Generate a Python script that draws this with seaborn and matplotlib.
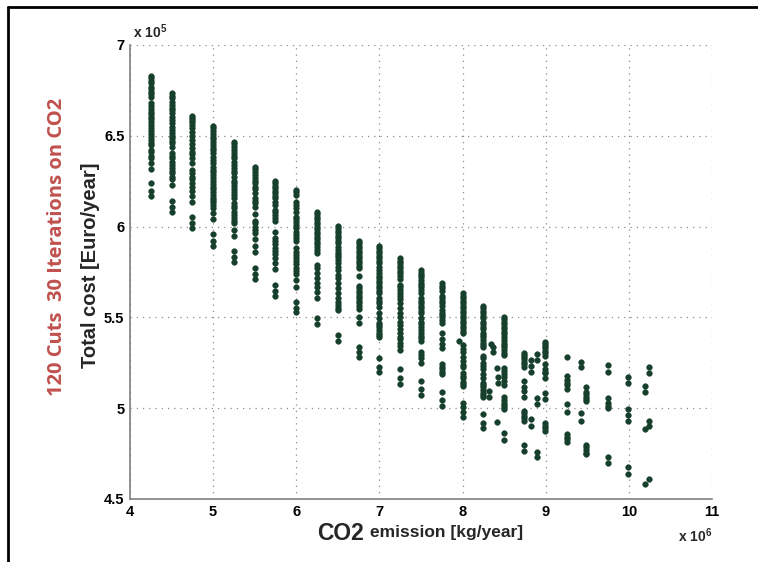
import matplotlib
matplotlib.use("Agg")
import matplotlib.pyplot as plt
from matplotlib import font_manager
from matplotlib.lines import Line2D
import seaborn as sns
import pandas as pd

# ---------------- data (x in 1e6 kg/year, y in 1e5 Euro/year) ----------------
x_ticks = [4, 5, 6, 7, 8, 9, 10, 11]
y_ticks = [4.5, 5, 5.5, 6, 6.5, 7]
y_tick_labels = ["4.5", "5", "5.5", "6", "6.5", "7"]

y_425 = [6.829, 6.817, 6.802, 6.789, 6.770, 6.758, 6.743, 6.729, 6.712, 6.679, 6.666, 6.646,
         6.633, 6.618, 6.605, 6.591, 6.578, 6.559, 6.541, 6.526, 6.510, 6.495, 6.477, 6.462,
         6.449, 6.422, 6.409, 6.390, 6.376, 6.349, 6.316, 6.238, 6.196, 6.170]
y_450 = [6.734, 6.721, 6.707, 6.688, 6.670, 6.655, 6.642, 6.624, 6.605, 6.587, 6.569, 6.551,
         6.532, 6.514, 6.501, 6.486, 6.472, 6.459, 6.441, 6.404, 6.391, 6.376, 6.358, 6.339,
         6.321, 6.306, 6.294, 6.275, 6.261, 6.229, 6.143, 6.110, 6.082]
y_475 = [6.611, 6.600, 6.587, 6.574, 6.559, 6.545, 6.523, 6.501, 6.477, 6.453, 6.431, 6.413,
         6.398, 6.376, 6.349, 6.312, 6.294, 6.275, 6.262, 6.238, 6.220, 6.196, 6.170, 6.137,
         6.055, 6.018, 5.991]
y_500 = [6.554, 6.541, 6.526, 6.510, 6.495, 6.482, 6.467, 6.449, 6.434, 6.421, 6.403, 6.385,
         6.367, 6.348, 6.330, 6.312, 6.299, 6.284, 6.266, 6.251, 6.233, 6.220, 6.207, 6.192,
         6.174, 6.159, 6.146, 6.134, 6.119, 6.101, 6.073, 6.042, 5.958, 5.921, 5.895]
y_525 = [6.467, 6.453, 6.440, 6.422, 6.403, 6.390, 6.376, 6.357, 6.339, 6.321, 6.306, 6.294,
         6.275, 6.251, 6.239, 6.226, 6.208, 6.193, 6.174, 6.156, 6.129, 6.116, 6.101, 6.083,
         6.064, 6.046, 6.031, 6.019, 5.982, 5.950, 5.866, 5.835, 5.803]
y_550 = [6.330, 6.317, 6.302, 6.284, 6.266, 6.251, 6.239, 6.220, 6.207, 6.184, 6.156, 6.141,
         6.129, 6.110, 6.068, 6.031, 6.019, 6.000, 5.981, 5.963, 5.932, 5.895, 5.858, 5.770,
         5.737, 5.709]
y_575 = [6.251, 6.239, 6.226, 6.211, 6.196, 6.184, 6.171, 6.156, 6.134, 6.119, 6.091, 6.079,
         6.064, 6.046, 6.031, 5.972, 5.939, 5.921, 5.903, 5.884, 5.866, 5.848, 5.829, 5.798,
         5.767, 5.678, 5.645, 5.618]
y_600 = [6.202, 6.189, 6.174, 6.134, 6.119, 6.101, 6.079, 6.055, 6.042, 6.027, 6.009, 5.991,
         5.972, 5.954, 5.939, 5.921, 5.884, 5.862, 5.844, 5.829, 5.811, 5.793, 5.774, 5.756,
         5.737, 5.705, 5.669, 5.583, 5.553, 5.528]
y_625 = [6.082, 6.069, 6.055, 6.041, 6.027, 6.014, 6.000, 5.985, 5.972, 5.959, 5.945, 5.930,
         5.917, 5.904, 5.889, 5.871, 5.852, 5.789, 5.770, 5.743, 5.715, 5.688, 5.666, 5.642,
         5.605, 5.495, 5.464]
y_650 = [6.003, 5.991, 5.977, 5.963, 5.948, 5.936, 5.923, 5.908, 5.890, 5.872, 5.857, 5.844,
         5.832, 5.817, 5.799, 5.777, 5.761, 5.734, 5.716, 5.688, 5.661, 5.633, 5.606, 5.587,
         5.569, 5.551, 5.538, 5.403, 5.372]
y_675 = [5.922, 5.908, 5.893, 5.880, 5.867, 5.853, 5.838, 5.825, 5.812, 5.798, 5.783, 5.770,
         5.728, 5.673, 5.661, 5.648, 5.633, 5.618, 5.605, 5.593, 5.578, 5.563, 5.545, 5.504,
         5.468, 5.339, 5.312, 5.280]
y_700 = [5.893, 5.880, 5.867, 5.853, 5.838, 5.825, 5.812, 5.798, 5.779, 5.761, 5.743, 5.728,
         5.715, 5.702, 5.688, 5.673, 5.661, 5.648, 5.633, 5.605, 5.593, 5.578, 5.559, 5.526,
         5.495, 5.471, 5.458, 5.445, 5.430, 5.416, 5.403, 5.390, 5.275, 5.229, 5.198]
y_725 = [5.825, 5.812, 5.798, 5.783, 5.770, 5.757, 5.743, 5.728, 5.710, 5.678, 5.666, 5.651,
         5.636, 5.618, 5.600, 5.578, 5.550, 5.526, 5.504, 5.477, 5.458, 5.435, 5.413, 5.394,
         5.380, 5.361, 5.343, 5.320, 5.214, 5.165, 5.133]
y_750 = [5.761, 5.746, 5.733, 5.720, 5.706, 5.691, 5.678, 5.665, 5.651, 5.636, 5.605, 5.592,
         5.578, 5.563, 5.550, 5.537, 5.522, 5.495, 5.476, 5.464, 5.445, 5.430, 5.412, 5.398,
         5.385, 5.372, 5.311, 5.293, 5.275, 5.251, 5.151, 5.104, 5.073]
y_775 = [5.688, 5.673, 5.661, 5.647, 5.618, 5.605, 5.592, 5.578, 5.563, 5.541, 5.526, 5.514,
         5.501, 5.486, 5.471, 5.416, 5.380, 5.354, 5.330, 5.243, 5.229, 5.215, 5.201, 5.188,
         5.091, 5.046, 5.012]
y_796 = [5.372]
y_800 = [5.633, 5.618, 5.605, 5.592, 5.578, 5.563, 5.550, 5.537, 5.522, 5.507, 5.495, 5.481,
         5.467, 5.452, 5.440, 5.427, 5.412, 5.348, 5.324, 5.311, 5.284, 5.262, 5.238, 5.225,
         5.192, 5.177, 5.165, 5.146, 5.133, 5.122, 5.027, 5.005, 4.981, 4.950]
y_825 = [5.563, 5.550, 5.537, 5.522, 5.507, 5.495, 5.476, 5.464, 5.449, 5.435, 5.416, 5.403,
         5.390, 5.376, 5.361, 5.348, 5.335, 5.287, 5.275, 5.247, 5.233, 5.214, 5.188, 5.165,
         5.141, 5.128, 5.115, 5.100, 5.085, 5.073, 5.060, 4.968, 4.920, 4.889]
y_832 = [5.096, 5.063]
y_834 = [5.352]
y_836 = [5.339, 5.311]
y_841 = [5.220, 4.926]
y_843 = [5.173, 5.140]
y_850 = [5.504, 5.490, 5.476, 5.464, 5.449, 5.435, 5.421, 5.408, 5.390, 5.376, 5.361, 5.348,
         5.335, 5.320, 5.305, 5.293, 5.220, 5.207, 5.188, 5.173, 5.152, 5.128, 5.060, 5.045,
         5.030, 5.017, 5.005, 4.994, 4.862, 4.825]
y_874 = [5.306, 5.293, 5.280, 5.269, 5.256, 5.243, 5.225, 5.151, 5.118, 5.096, 5.060, 4.986,
         4.972, 4.957, 4.944, 4.931, 4.797, 4.764]
y_882 = [5.265, 5.232, 5.201, 4.939, 4.902]
y_890 = [5.297, 5.264, 5.054, 5.023, 4.760, 4.730]
y_899 = [5.366, 5.353, 5.342, 5.330, 5.317, 5.302, 5.287, 5.242, 5.214, 5.201, 5.192, 5.168,
         5.085, 5.049, 4.917, 4.904, 4.891, 4.876]
y_925 = [5.280, 5.177, 5.155, 5.140, 5.126, 5.104, 5.021, 4.981, 4.858, 4.843, 4.829, 4.812]
y_943 = [5.256, 5.229, 4.972, 4.931]
y_949 = [5.118, 5.091, 5.078, 5.063, 5.049, 5.041, 4.797, 4.785, 4.770, 4.755, 4.746]
y_975 = [5.236, 5.201, 5.054, 5.027, 5.012, 4.999, 4.733, 4.700]
y_999 = [5.173, 5.140, 4.994, 4.963, 4.931, 4.675, 4.638]
y_1019 = [5.122, 5.091, 4.884, 4.583]
y_1024 = [5.229, 5.196, 4.931, 4.902, 4.610]

columns = {
    4.25: y_425, 4.50: y_450, 4.75: y_475, 5.00: y_500, 5.25: y_525, 5.50: y_550,
    5.75: y_575, 6.00: y_600, 6.25: y_625, 6.50: y_650, 6.75: y_675, 7.00: y_700,
    7.25: y_725, 7.50: y_750, 7.75: y_775, 7.96: y_796, 8.00: y_800, 8.25: y_825,
    8.32: y_832, 8.34: y_834, 8.36: y_836, 8.41: y_841, 8.43: y_843, 8.50: y_850,
    8.74: y_874, 8.82: y_882, 8.90: y_890, 8.99: y_899, 9.25: y_925, 9.43: y_943,
    9.49: y_949, 9.75: y_975, 9.99: y_999, 10.19: y_1019, 10.24: y_1024,
}

rows = [(xv, yv) for xv, ys in columns.items() for yv in ys]
df = pd.DataFrame(rows, columns=["co2", "cost"])

# ---------------- styling ----------------
sns.set_style("white")
avail = {f.name for f in font_manager.fontManager.ttflist}
narrow = "Liberation Sans Narrow" if "Liberation Sans Narrow" in avail else "Liberation Sans"
plt.rcParams["font.family"] = ["Liberation Sans", "DejaVu Sans"]
plt.rcParams["mathtext.default"] = "regular"

fig = plt.figure(figsize=(7.58, 5.62), dpi=100)
ax = fig.add_axes([130 / 758, 1 - 499 / 562, 582 / 758, 454 / 562])

sns.scatterplot(data=df, x="co2", y="cost", ax=ax, color="#17402c", s=17,
                edgecolor="#17402c", linewidth=0.3, zorder=3)

ax.set_xlim(4, 11)
ax.set_ylim(4.5, 7)
ax.set_xticks(x_ticks)
ax.set_yticks(y_ticks)
ax.set_xticklabels([str(v) for v in x_ticks], fontfamily=narrow, fontweight="bold", fontsize=10.5)
ax.set_yticklabels(y_tick_labels, fontfamily=narrow, fontweight="bold", fontsize=10.5)
ax.tick_params(axis="both", length=0, pad=4, colors="black")
ax.grid(True, color="#8c8c8c", linestyle=(0, (1, 4)), linewidth=0.9)
for side in ["top", "right"]:
    ax.spines[side].set_visible(False)
for side in ["left", "bottom"]:
    ax.spines[side].set_color("#808080")
    ax.spines[side].set_linewidth(1.2)
ax.set_xlabel("")
ax.set_ylabel("")

# exponent markers
fig.text(133 / 758, 1 - 32 / 562, r"x 10$^{5}$", fontfamily=narrow, fontweight="bold",
         fontsize=10, ha="left", va="center")
fig.text(678 / 758, 1 - 536 / 562, r"x 10$^{6}$", fontfamily=narrow, fontweight="bold",
         fontsize=10, ha="left", va="center")

# axis labels
fig.text(364 / 758, 1 - 533 / 562, "CO2", fontfamily="Liberation Sans", fontweight="bold",
         fontsize=16.5, ha="right", va="center")
fig.text(370 / 758, 1 - 533 / 562, "emission [kg/year]", fontfamily=narrow, fontweight="bold",
         fontsize=12.5, ha="left", va="center")
fig.text(90 / 758, 1 - 265 / 562, "Total cost [Euro/year]", fontfamily="Liberation Sans",
         fontweight="bold", fontsize=14.5, rotation=90, ha="center", va="center")
fig.text(57 / 758, 1 - 247 / 562, "120 Cuts  30 Iterations on CO2", fontfamily="Open Sans",
         fontweight="bold", fontsize=14.5, color="#c0504d", rotation=90,
         ha="center", va="center")

# outer frame (top and left edges)
fig.add_artist(Line2D([8 / 758, 1.0], [1 - 7 / 562, 1 - 7 / 562], transform=fig.transFigure,
                      color="black", linewidth=2))
fig.add_artist(Line2D([8 / 758, 8 / 758], [0.0, 1 - 7 / 562], transform=fig.transFigure,
                      color="black", linewidth=2))

fig.savefig("out.png", dpi=100)
